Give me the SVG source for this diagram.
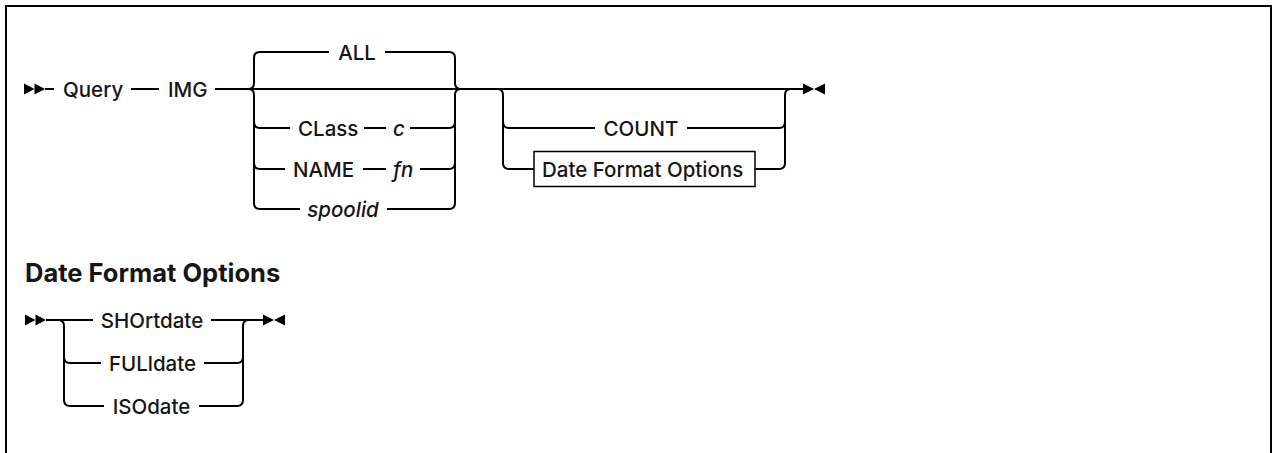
<svg xmlns="http://www.w3.org/2000/svg" width="1273" height="453" viewBox="0 0 1273 453">
<style>
.ln{fill:none;stroke:#000;stroke-width:2}
.t{font-family:Inter,"Liberation Sans",Arial,sans-serif;font-size:20.5px;font-weight:500;fill:#161616}
.c{text-anchor:middle}
.i{font-style:italic}
.h{font-family:Inter,"Liberation Sans",Arial,sans-serif;font-size:25.5px;font-weight:bold;fill:#161616}
.mk{fill:#000}
</style>
<rect x="0" y="0" width="1273" height="453" fill="#fff"/>
<path class="ln" d="M6,460 V6 H1271 V460"/>
<g id="connectors">
<polygon class="mk" points="24,83.5 24,94.5 34.5,89"/>
<polygon class="mk" points="34.5,83.5 34.5,94.5 45,89"/>
<path class="ln" d="M45,89 H54"/>
<path class="ln" d="M131,89 H159"/>
<path class="ln" d="M215,89 H803"/>
<path class="ln" d="M248,89 Q254,89 254,83 V58 Q254,52 260,52 H329"/>
<path class="ln" d="M385,52 H449 Q455,52 455,58 V83 Q455,89 461,89"/>
<path class="ln" d="M248,89 Q254,89 254,95 V203 Q254,209 260,209"/>
<path class="ln" d="M461,89 Q455,89 455,95 V203 Q455,209 449,209"/>
<path class="ln" d="M254,122 Q254,128 260,128 H290"/>
<path class="ln" d="M364,128 H386"/>
<path class="ln" d="M410,128 H449 Q455,128 455,122"/>
<path class="ln" d="M254,163 Q254,169 260,169 H285"/>
<path class="ln" d="M363,169 H386"/>
<path class="ln" d="M420,169 H449 Q455,169 455,163"/>
<path class="ln" d="M260,209 H300"/>
<path class="ln" d="M387,209 H449"/>
<path class="ln" d="M497,89 Q503,89 503,95 V163 Q503,169 509,169 H534"/>
<path class="ln" d="M503,122 Q503,128 509,128 H595"/>
<path class="ln" d="M687,128 H779 Q785,128 785,122"/>
<path class="ln" d="M755,169 H779 Q785,169 785,163 V95 Q785,89 791,89"/>
<polygon class="mk" points="803,83.5 803,94.5 814,89"/>
<polygon class="mk" points="825,83.5 825,94.5 814,89"/>
<polygon class="mk" points="25,314.5 25,325.5 35.5,320"/>
<polygon class="mk" points="35.5,314.5 35.5,325.5 46,320"/>
<path class="ln" d="M46,320 H93"/>
<path class="ln" d="M211,320 H263"/>
<path class="ln" d="M58,320 Q64,320 64,326 V400 Q64,406 70,406 H104"/>
<path class="ln" d="M64,357 Q64,363 70,363 H101"/>
<path class="ln" d="M204,363 H237 Q243,363 243,357"/>
<path class="ln" d="M199,406 H237 Q243,406 243,400 V326 Q243,320 249,320"/>
<polygon class="mk" points="263,314.5 263,325.5 274,320"/>
<polygon class="mk" points="285,314.5 285,325.5 274,320"/>
</g>
<g id="node-query"><text class="t" x="63" y="96.5">Query</text></g>
<g id="node-img"><text class="t" x="168" y="96.5">IMG</text></g>
<g id="node-all"><text class="t c" x="357" y="59.5">ALL</text></g>
<g id="node-class"><text class="t" x="298" y="135.5">CLass</text><text class="t i" x="393" y="135.5">c</text></g>
<g id="node-name"><text class="t" x="293" y="176.5">NAME</text><text class="t i" x="393" y="176.5">fn</text></g>
<g id="node-spoolid"><text class="t c i" x="343" y="216.5">spoolid</text></g>
<g id="node-count"><text class="t c" x="641" y="135.5">COUNT</text></g>
<g id="node-dfo-ref"><rect x="534" y="151.5" width="221" height="35" fill="#fff" stroke="#000" stroke-width="1.5"/><text class="t" x="542" y="176.5">Date Format Options</text></g>
<g id="node-heading"><text class="h" x="25" y="282">Date Format Options</text></g>
<g id="node-shortdate"><text class="t c" x="152" y="327.5">SHOrtdate</text></g>
<g id="node-fulldate"><text class="t c" x="152.5" y="370.5">FULldate</text></g>
<g id="node-isodate"><text class="t c" x="151.5" y="413.5">ISOdate</text></g>
</svg>
